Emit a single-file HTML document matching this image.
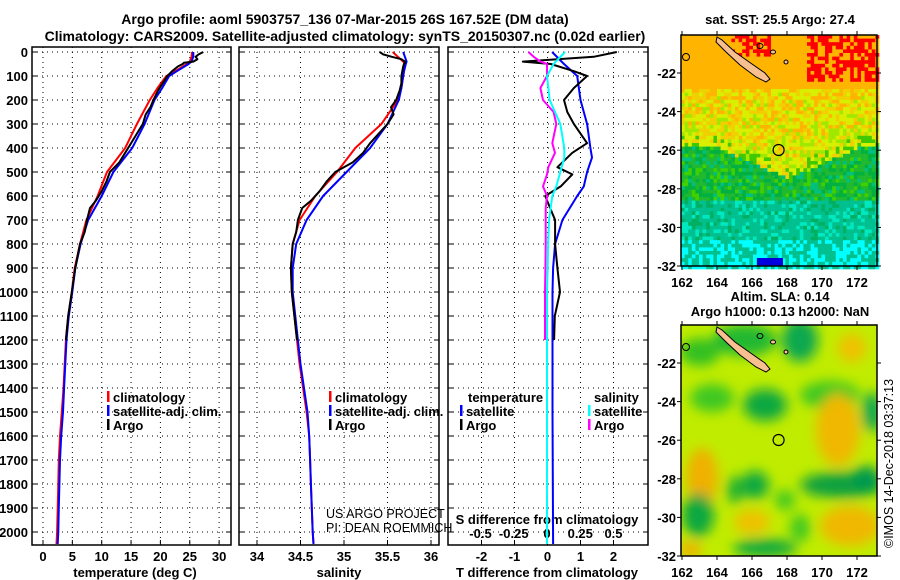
<!DOCTYPE html>
<html><head><meta charset="utf-8"><style>
html,body{margin:0;padding:0;background:#fff;}
svg{display:block;font-family:"Liberation Sans",sans-serif;}
.t{font-weight:bold;font-size:13px;}
</style></head><body>
<svg id="fig" width="900" height="580" viewBox="0 0 900 580">
<defs>
<clipPath id="c1"><rect x="32" y="47" width="199" height="498"/></clipPath>
<clipPath id="c2"><rect x="239" y="47" width="200" height="498"/></clipPath>
<clipPath id="c3"><rect x="448" y="47" width="200" height="498"/></clipPath>
<clipPath id="cm2"><rect x="681" y="325" width="196" height="231"/></clipPath>
<filter id="blur" x="-50%" y="-50%" width="200%" height="200%"><feGaussianBlur stdDeviation="6"/></filter>
</defs>
<text x="345" y="24" text-anchor="middle" style="font-weight:bold;font-size:14px">Argo profile: aoml 5903757_136 07-Mar-2015 26S 167.52E (DM data)</text>
<text x="345" y="41" text-anchor="middle" style="font-weight:bold;font-size:14px">Climatology: CARS2009. Satellite-adjusted climatology: synTS_20150307.nc (0.02d earlier)</text>
<g id="g1"></g>
<g id="g2"></g>
<g id="g3"></g>
<g id="m1"></g>
<g id="m2"></g>
<text x="780" y="24" text-anchor="middle" class="t">sat. SST: 25.5 Argo: 27.4</text>
<text x="780" y="301" text-anchor="middle" class="t">Altim. SLA: 0.14</text>
<text x="780" y="316" text-anchor="middle" class="t">Argo h1000: 0.13 h2000: NaN</text>
<text transform="translate(893,548) rotate(-90)" style="font-size:12.5px">©IMOS 14-Dec-2018 03:37:13</text>
<text x="326" y="518" style="font-size:12.5px">US ARGO PROJECT</text>
<text x="326" y="532" style="font-size:12.5px">PI: DEAN ROEMMICH</text>
</svg>
<script>
// ---- data ----
const depthClim=[0,20,40,50,80,100,150,200,300,400,500,600,700,800,900,1000,1100,1200,1300,1400,1500,1600,1700,1800,1900,2000,2050];
const climT=[25.4,25.3,25.0,24.5,22.5,21.0,19.5,18.2,16.0,14.0,10.9,9.3,7.4,6.3,5.4,4.9,4.3,3.9,3.7,3.5,3.2,2.9,2.7,2.6,2.5,2.4,2.3];
const satT=[25.6,25.6,25.3,24.8,22.8,21.5,20.3,19.0,17.3,15.2,12.0,10.0,7.7,6.4,5.5,5.0,4.4,4.0,3.8,3.6,3.4,3.1,2.9,2.8,2.7,2.6,2.5];
const climS=[35.56,35.62,35.68,35.70,35.69,35.68,35.66,35.62,35.43,35.13,34.92,34.67,34.49,34.41,34.39,34.40,34.43,34.46,34.49,34.53,34.57,34.60,34.61,34.62,34.63,34.64,34.65];
const satS=[35.68,35.70,35.72,35.71,35.69,35.68,35.66,35.63,35.50,35.30,35.03,34.76,34.57,34.45,34.41,34.41,34.44,34.47,34.50,34.54,34.58,34.60,34.61,34.62,34.63,34.64,34.65];
const depthArgo=[0,10,20,30,40,45,50,60,80,100,130,160,200,230,260,300,340,380,420,460,500,540,580,620,650,700,750,800,900,1000,1100,1200];
const argoT=[27.3,26.5,26.0,26.3,25.6,24.0,23.8,23.0,22.0,21.2,20.4,19.6,18.8,18.3,17.5,17.0,16.0,15.0,14.0,13.0,11.4,10.8,10.0,9.0,8.0,7.5,7.1,6.3,5.5,4.9,4.3,3.9];
const argoS=[35.41,35.45,35.55,35.66,35.70,35.70,35.69,35.68,35.67,35.66,35.66,35.64,35.60,35.54,35.57,35.50,35.40,35.30,35.22,35.10,34.90,34.80,34.72,34.62,34.52,34.47,34.45,34.41,34.39,34.40,34.43,34.46];
const depthDiff=[0,20,40,50,80,100,150,200,250,300,380,420,480,510,560,600,650,700,800,900,1000,1100,1200];
const argoTd=[2.1,1.4,-0.75,0.1,0.8,1.2,0.8,0.5,0.6,0.8,1.2,0.75,0.3,0.75,0.4,-0.07,0.08,0.23,0.23,0.3,0.38,0.22,0.2];
const argoSd=[-0.14,-0.1,-0.05,0.0,0.0,0.0,-0.05,-0.03,0.05,0.07,0.04,0.06,0.01,0.0,-0.03,0.0,-0.01,-0.01,-0.01,-0.012,-0.015,-0.015,-0.015];
const depthSatD=[0,50,100,200,300,400,440,500,560,600,700,800,900,1000,1500,2050];
const satTd=[0.14,0.5,0.9,1.0,1.2,1.3,1.35,1.2,1.1,0.9,0.45,0.23,0.17,0.15,0.15,0.17];
const satSd=[0.135,0.05,0.0,0.02,0.1,0.13,0.13,0.1,0.07,0.04,0.015,0.008,0.005,0.0,0.0,0.0];
const depthTicks=[0,100,200,300,400,500,600,700,800,900,1000,1100,1200,1300,1400,1500,1600,1700,1800,1900,2000];
const tempTicks=[0,5,10,15,20,25,30];
const salTicks=[34,34.5,35,35.5,36];
const salTickLabels=["34","34.5","35","35.5","36"];
const tdTicks=[-2,-1,0,1,2];
const sdTicks=[-0.5,-0.25,0,0.25,0.5];
const sdTickLabels=["-0.5","-0.25","0","0.25","0.5"];
const lonTicks=[162,164,166,168,170,172];
const latTicks=[-22,-24,-26,-28,-30,-32];

// ---- scales ----
const yD=d=>52+d*0.24;
const xT=v=>43+v*5.87;
const xS=v=>257+(v-34)*87;
const xTd=v=>547.5+v*33;
const xSd=v=>547+v*133;
const NS='http://www.w3.org/2000/svg';
function mk(p,tag,at){const e=document.createElementNS(NS,tag);for(const k in at)e.setAttribute(k,at[k]);p.appendChild(e);return e;}
function txt(p,x,y,s,anchor,cls){const e=mk(p,'text',{x:x,y:y,'text-anchor':anchor||'start'});if(cls)e.setAttribute('class',cls);e.textContent=s;return e;}
function line(p,depths,vals,xf,color,clip,name){
  const pts=depths.map((d,i)=>xf(vals[i]).toFixed(1)+','+yD(d).toFixed(1)).join(' ');
  const e=mk(p,'polyline',{points:pts,fill:'none',stroke:color,'stroke-width':2,'clip-path':'url(#'+clip+')','stroke-linejoin':'round'});
  
  
}
function panel(g,x0,x1,clip,xticks,xf,xlabels,ylabels){
  const fr=mk(g,'rect',{x:x0,y:47,width:x1-x0,height:498,fill:'none',stroke:'#000','stroke-width':1.5});
  
  
  depthTicks.forEach(d=>{
    mk(g,'line',{x1:x0,x2:x1,y1:yD(d),y2:yD(d),stroke:'#000','stroke-width':1,'stroke-dasharray':'1,4'});
    mk(g,'line',{x1:x0,x2:x0+5,y1:yD(d),y2:yD(d),stroke:'#000'});
    mk(g,'line',{x1:x1-5,x2:x1,y1:yD(d),y2:yD(d),stroke:'#000'});
    if(ylabels){const t=txt(g,28,yD(d)+5,String(d),'end','t');
      
      }
  });
  xticks.forEach((v,i)=>{
    const x=xf(v);
    mk(g,'line',{x1:x,x2:x,y1:47,y2:545,stroke:'#000','stroke-width':1,'stroke-dasharray':'1,4'});
    mk(g,'line',{x1:x,x2:x,y1:545,y2:540,stroke:'#000'});
    if(xlabels){const t=txt(g,x,561,xlabels[i],'middle','t');
      
      }
  });
}
const g1=document.getElementById('g1'),g2=document.getElementById('g2'),g3=document.getElementById('g3');
panel(g1,32,231,'c1',tempTicks,xT,tempTicks.map(String),true);
panel(g2,239,439,'c2',salTicks,xS,salTickLabels,false);
panel(g3,448,648,'c3',tdTicks,xTd,tdTicks.map(String),false);
sdTicks.forEach((v,i)=>{const t=txt(g3,xSd(v),538,sdTickLabels[i],'middle','t');
  
  });
let t;
t=txt(g1,135,577,'temperature (deg C)','middle','t');


t=txt(g2,339,577,'salinity','middle','t');


t=txt(g3,547,577,'T difference from climatology','middle','t');


t=txt(g3,547,524,'S difference from climatology','middle','t');



line(g1,depthClim,climT,xT,'#ff0000','c1','temperature-climatology-line');
line(g1,depthClim,satT,xT,'#0000ff','c1','temperature-satellite-line');
line(g1,depthArgo,argoT,xT,'#000','c1','temperature-argo-line');
line(g2,depthClim,climS,xS,'#ff0000','c2','salinity-climatology-line');
line(g2,depthClim,satS,xS,'#0000ff','c2','salinity-satellite-line');
line(g2,depthArgo,argoS,xS,'#000','c2','salinity-argo-line');
line(g3,depthSatD,satTd,xTd,'#0000ff','c3','t-diff-satellite-line');
line(g3,depthDiff,argoTd,xTd,'#000','c3','t-diff-argo-line');
line(g3,depthDiff,argoSd,xSd,'#ff00ff','c3','s-diff-argo-line');
line(g3,depthSatD,satSd,xSd,'#00ffff','c3','s-diff-satellite-line');

function legend(g,x,y,color,label){
  const r=mk(g,'rect',{x:x,y:y-11,width:2.5,height:11,fill:color});
  
  
  const tt=txt(g,x+6,y,label,'start','t');
  
  
}
[[g1,107],[g2,329]].forEach(([g,x])=>{
  legend(g,x,402,'#ff0000','climatology');
  legend(g,x,416,'#0000ff','satellite-adj. clim.');
  legend(g,x,430,'#000','Argo');
});
t=txt(g3,468,402,'temperature','start','t');


legend(g3,460,416,'#0000ff','satellite');
legend(g3,460,430,'#000','Argo');
t=txt(g3,594,402,'salinity','start','t');


legend(g3,588,416,'#00ffff','satellite');
legend(g3,588,430,'#ff00ff','Argo');

// ---- maps ----
const lonX=l=>682+(l-162)*17.5;
function hash(i,j){let h=(i*374761393+j*668265263)|0;h=(h^(h>>>13))*1274126177|0;return ((h^(h>>>16))>>>0)/4294967296;}
function mapFrame(g,top){
  const latY=l=>top+38+(-22-l)*19.3;
  const fr=mk(g,'rect',{x:681,y:top,width:196,height:231,fill:'none',stroke:'#000','stroke-width':1.5});
  
  
  lonTicks.forEach(l=>{const x=lonX(l);
    mk(g,'line',{x1:x,x2:x,y1:top,y2:top-4,stroke:'#000'});
    mk(g,'line',{x1:x,x2:x,y1:top+231,y2:top+235,stroke:'#000'});
    const tt=txt(g,x,top+252,String(l),'middle','t');
    
    });
  latTicks.forEach(l=>{const y=latY(l);
    mk(g,'line',{x1:681,x2:677,y1:y,y2:y,stroke:'#000'});
    mk(g,'line',{x1:877,x2:881,y1:y,y2:y,stroke:'#000'});
    const tt=txt(g,676,y+5,String(l),'end','t');
    
    });
  return latY;
}
function island(g,top){
  const o=top-35;
  const p=mk(g,'path',{d:`M717 ${37+o} L722 ${40+o} L735 ${52+o} L752 ${64+o} L765 ${73+o} L770 ${79+o} L766 ${82+o} L756 ${77+o} L740 ${65+o} L726 ${52+o} L716 ${42+o} Z`,fill:'#f8c090',stroke:'#000','stroke-width':1});
  
  
  mk(g,'ellipse',{cx:686,cy:57+o,rx:3.5,ry:3.5,fill:'none',stroke:'#000'});
  mk(g,'ellipse',{cx:760,cy:46+o,rx:3,ry:2.5,fill:'none',stroke:'#000'});
  mk(g,'ellipse',{cx:773,cy:52+o,rx:2.5,ry:2,fill:'#f8c090',stroke:'#000'});
  mk(g,'ellipse',{cx:786,cy:62+o,rx:2,ry:2,fill:'#f8c090',stroke:'#000'});
  const c=mk(g,'circle',{cx:778.6,cy:150+o,r:5.5,fill:'none',stroke:'#000','stroke-width':1.2});
  
  
}
const m1=document.getElementById('m1');
(function(){
  const cs=3.6;
  for(let j=0;j*cs<231;j++){for(let i=0;i*cs<196;i++){
    const x=681+i*cs,y=35+j*cs;
    const lon=162+(x-682)/17.5, lat=-22-(y-73)/19.3;
    const r=hash(i,j);
    const B=-25.8-1.6*Math.max(0,1-Math.abs(lon-168)/4);
    let c;
    if(lat>-22.8){c='#ffb400';
      if((lon>169&&lat>-22.4&&r<0.6)||(lon>164.8&&lon<167&&lat>-21&&r<0.5))c='#ff0000';}
    else if(lat>B){
      const f=(lat+22.8)/(B+22.8);
      const rr=r*0.8+f*0.35;
      c=rr<0.3?'#ffb400':(rr<0.5?'#f0d000':(rr<0.8?'#d8f000':'#a0e800'));
      if(lat<B+0.6&&r>0.7)c='#40c800';}
    else if(lat>-28.5){c=r<0.4?'#20b830':(r<0.7?'#00b040':(r<0.85?'#40d000':'#00c080'));}
    else{c=r<0.6?'#00c090':(r<0.75?'#00b060':'#00e8c0');
      if(lat<-30.6&&r>0.55)c='#00ffff';}
    mk(m1,'rect',{x:x,y:y,width:cs+0.3,height:cs+0.3,fill:c});
  }}
  mk(m1,'rect',{x:757,y:258,width:26,height:8,fill:'#0000e0'});
  island(m1,35);
  mapFrame(m1,35);
})();
const m2=document.getElementById('m2');
(function(){
  const g=mk(m2,'g',{'clip-path':'url(#cm2)'});
  mk(g,'rect',{x:681,y:325,width:196,height:231,fill:'#c0ec00'});
  const f=mk(g,'g',{filter:'url(#blur)'});
  const blobs=[[700,352,20,14,'#30c020'],[745,340,32,16,'#20b830'],[800,340,18,22,'#10a850'],[852,348,14,14,'#f0c000'],
  [712,398,22,14,'#40c820'],[765,405,22,16,'#10a840'],[830,395,30,14,'#40c820'],[872,412,10,20,'#10a850'],
  [838,430,22,36,'#f0b800'],[702,478,16,30,'#f0b000'],[755,485,14,14,'#10a840'],[735,490,8,14,'#20b030'],
  [842,485,42,13,'#10a040'],[866,478,14,12,'#009850'],[698,515,16,22,'#10a840'],[752,522,18,12,'#f0c000'],
  [850,526,30,20,'#f0b800'],[765,548,32,9,'#10a840'],[690,550,12,8,'#f0b000'],[800,528,10,14,'#40c820'],[785,500,10,10,'#40c820']];
  blobs.forEach(b=>mk(f,'ellipse',{cx:b[0],cy:b[1],rx:b[2],ry:b[3],fill:b[4]}));
  island(m2,325);
  mapFrame(m2,325);
})();
</script>
</body></html>
